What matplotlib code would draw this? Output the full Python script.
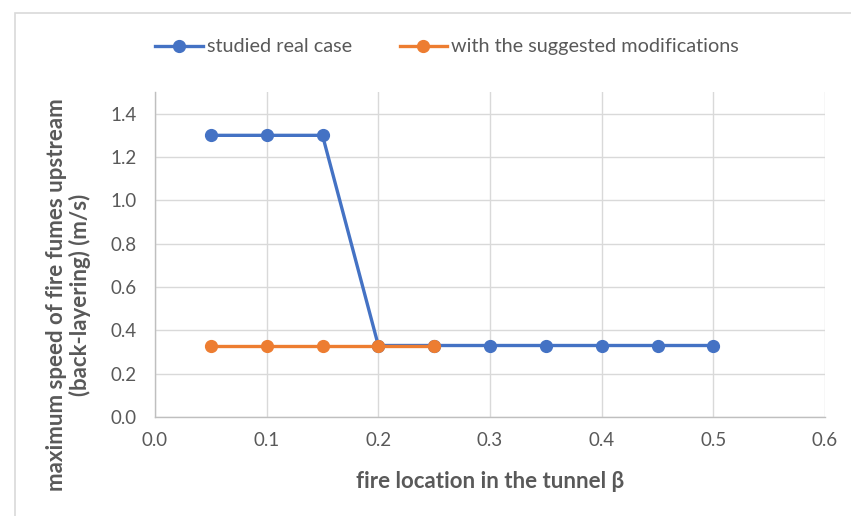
import matplotlib
matplotlib.use("Agg")
import matplotlib.pyplot as plt
from matplotlib.patches import Rectangle

x_real = [0.05, 0.10, 0.15, 0.20, 0.25, 0.30, 0.35, 0.40, 0.45, 0.50]
y_real = [1.30, 1.30, 1.30, 0.33, 0.33, 0.33, 0.33, 0.33, 0.33, 0.33]
x_mod = [0.05, 0.10, 0.15, 0.20, 0.25]
y_mod = [0.33, 0.33, 0.33, 0.33, 0.33]
xticks = [0.0, 0.1, 0.2, 0.3, 0.4, 0.5, 0.6]
yticks = [0.0, 0.2, 0.4, 0.6, 0.8, 1.0, 1.2, 1.4]

plt.rcParams['font.family'] = ['Lato', 'DejaVu Sans']

fig = plt.figure(figsize=(8.51, 5.16), dpi=100)
fig.patches.append(Rectangle((15/851, -0.1), 1.2, 1 - 13/516 + 0.1,
                             transform=fig.transFigure, fill=False,
                             edgecolor='#d9d9d9', linewidth=1.2))
ax = fig.add_axes([155/851, 1 - 417/516, (825 - 155)/851, (417 - 92)/516])

blue = '#4472C4'
orange = '#ED7D31'
ax.plot(x_real, y_real, color=blue, lw=2.4, marker='o', ms=8.5,
        label='studied real case', zorder=3)
ax.plot(x_mod, y_mod, color=orange, lw=2.4, marker='o', ms=8.5,
        label='with the suggested modifications', zorder=4)

ax.set_xlim(0, 0.6)
ax.set_ylim(0, 1.5)
ax.set_xticks(xticks)
ax.set_yticks(yticks)
ax.set_xticklabels([f"{v:.1f}" for v in xticks])
ax.set_yticklabels([f"{v:.1f}" for v in yticks])
ax.grid(True, color='#d9d9d9', lw=1)
ax.set_axisbelow(True)
for s in ['top', 'right']:
    ax.spines[s].set_visible(False)
for s in ['left', 'bottom']:
    ax.spines[s].set_color('#bfbfbf')
    ax.spines[s].set_linewidth(1)
ax.tick_params(length=0, labelsize=13.5, colors='#595959')
ax.tick_params(axis='y', pad=13)
ax.tick_params(axis='x', pad=11)

ax.set_xlabel('fire location in the tunnel β', fontsize=16, fontweight='bold',
              color='#595959', labelpad=16)
ax.set_ylabel('maximum speed of fire fumes upstream\n(back-layering) (m/s)',
              fontsize=16, fontweight='bold', color='#595959',
              linespacing=1.1)
ax.yaxis.set_label_coords(-0.095, (417 - 295) / 325)

leg = fig.legend(loc='center', bbox_to_anchor=(447/851, 1 - 47/516), ncol=2,
                 frameon=False, fontsize=14.3, handlelength=2.4,
                 columnspacing=2.4, handletextpad=0.2)
for t in leg.get_texts():
    t.set_color('#595959')

fig.savefig('out.png', dpi=100)
